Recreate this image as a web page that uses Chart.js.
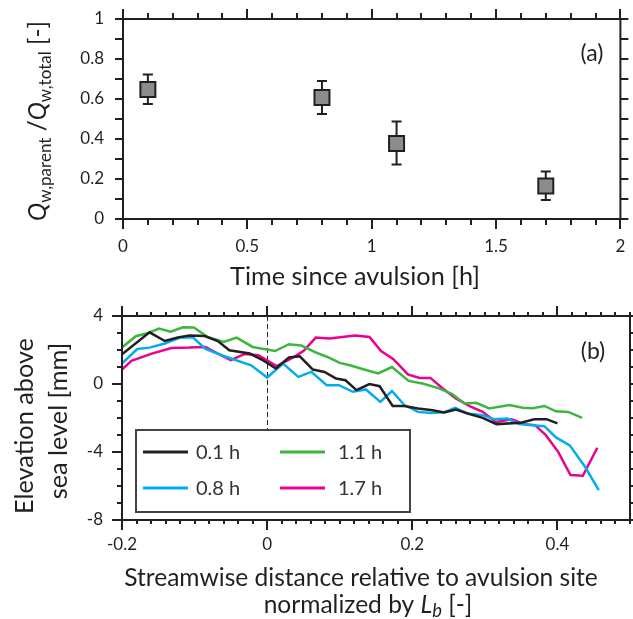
<!DOCTYPE html>
<html><head><meta charset="utf-8">
<script src="https://cdn.jsdelivr.net/npm/chart.js@4.4.1/dist/chart.umd.min.js"></script>
<style>html,body{margin:0;padding:0;background:#fff;} canvas{display:block;}</style>
</head><body>
<canvas id="ca" width="633" height="300"></canvas>
<canvas id="cb" width="633" height="319"></canvas>
<script>
// ---------- Panel (a) data ----------
const timeH  = [0.1, 0.8, 1.1, 1.7];
const qRatio = [0.647, 0.607, 0.377, 0.165];
const qLow   = [0.575, 0.525, 0.273, 0.095];
const qHigh  = [0.723, 0.690, 0.487, 0.237];
const aXTicks = [0, 0.5, 1, 1.5, 2];
const aXLabels = ['0', '0.5', '1', '1.5', '2'];
const aYTicks = [0, 0.2, 0.4, 0.6, 0.8, 1];
const aYLabels = ['0', '0.2', '0.4', '0.6', '0.8', '1'];

// ---------- Panel (b) data ----------
const seriesLabels = ['0.1 h', '0.8 h', '1.1 h', '1.7 h'];
const seriesColors = ['#231f20', '#00aeef', '#3cb63c', '#ec008c'];
const x01 = [-0.200,-0.162,-0.141,-0.123,-0.107,-0.086,-0.068,-0.052,-0.024,-0.006,0.012,0.030,0.045,0.063,0.079,0.095,0.108,0.123,0.141,0.155,0.173,0.189,0.208,0.228,0.244,0.260,0.279,0.297,0.316,0.350,0.368,0.385,0.400];
const y01 = [1.75,3.04,2.53,2.73,2.85,2.82,2.53,1.98,1.79,1.40,0.91,1.56,1.63,0.85,0.71,0.32,0.22,-0.36,0.00,-0.13,-1.29,-1.30,-1.44,-1.54,-1.67,-1.50,-1.77,-1.99,-2.36,-2.28,-2.07,-2.07,-2.32];
const x08 = [-0.200,-0.179,-0.162,-0.141,-0.120,-0.102,-0.085,-0.059,-0.022,0.000,0.022,0.043,0.061,0.082,0.099,0.118,0.136,0.156,0.172,0.189,0.208,0.226,0.244,0.259,0.276,0.297,0.313,0.331,0.347,0.366,0.382,0.398,0.417,0.438,0.457];
const y08 = [1.20,2.06,2.14,2.38,2.73,2.73,2.06,1.63,1.10,0.38,1.20,0.42,0.71,-0.07,-0.07,-0.46,-0.32,-1.05,-0.41,-1.24,-1.64,-1.70,-1.66,-1.40,-1.73,-1.83,-2.08,-2.03,-2.36,-2.42,-2.48,-3.14,-3.61,-4.87,-6.24];
const x11 = [-0.200,-0.181,-0.164,-0.149,-0.133,-0.116,-0.101,-0.082,-0.060,-0.042,-0.020,0.011,0.030,0.047,0.066,0.083,0.100,0.114,0.130,0.153,0.172,0.195,0.214,0.237,0.255,0.272,0.288,0.306,0.334,0.352,0.366,0.382,0.398,0.415,0.434];
const y11 = [2.15,2.81,3.00,3.26,3.08,3.34,3.32,2.77,2.47,2.73,2.18,1.94,2.34,2.26,1.88,1.59,1.24,1.10,0.90,0.62,1.00,0.18,0.03,-0.26,-0.60,-1.15,-1.11,-1.44,-1.23,-1.40,-1.42,-1.29,-1.61,-1.64,-1.99];
const x17 = [-0.200,-0.187,-0.159,-0.132,-0.107,-0.085,-0.068,-0.050,-0.031,-0.012,0.013,0.031,0.050,0.067,0.086,0.121,0.141,0.157,0.174,0.194,0.210,0.225,0.242,0.260,0.279,0.297,0.315,0.337,0.354,0.369,0.384,0.401,0.418,0.435,0.455];
const y17 = [0.85,1.36,1.79,2.12,2.14,2.18,1.79,1.40,1.77,1.69,1.05,1.44,1.94,2.73,2.67,2.85,2.77,1.94,1.46,0.56,0.36,0.36,-0.26,-0.85,-1.30,-1.64,-2.23,-2.08,-2.36,-2.42,-3.01,-3.99,-5.36,-5.40,-3.75];
const bXTicks = [-0.2, 0, 0.2, 0.4];
const bXLabels = ['-0.2', '0', '0.2', '0.4'];
const bYTicks = [-8, -4, 0, 4];
const bYLabels = ['-8', '-4', '0', '4'];

const FAM = 'Lato';
const INK = '#231f20';

function fitSize(ctx, text, targetW, style) {
  ctx.save(); ctx.font = (style || '') + ' 100px ' + FAM;
  const w = ctx.measureText(text).width; ctx.restore();
  return 100 * targetW / w;
}
function richWidth(ctx, parts) {
  let w = 0;
  parts.forEach(p => { ctx.font = p.font; w += ctx.measureText(p.t).width; });
  return w;
}
function drawRich(ctx, parts, cx, baseY, rotate) {
  ctx.save();
  ctx.translate(cx, baseY);
  if (rotate) ctx.rotate(-Math.PI / 2);
  const w = richWidth(ctx, parts);
  let x = -w / 2;
  ctx.fillStyle = INK; ctx.textBaseline = 'alphabetic'; ctx.textAlign = 'left';
  parts.forEach(p => { ctx.font = p.font; ctx.fillText(p.t, x, p.dy || 0); x += ctx.measureText(p.t).width; });
  ctx.restore();
}
// frame and tick marks drawn from the scales
function drawFrame(chart, xt, yt) {
  const {ctx, chartArea: {left, right, top, bottom}, scales: {x, y}} = chart;
  ctx.save();
  ctx.strokeStyle = INK; ctx.lineWidth = 2; ctx.lineCap = 'butt';
  ctx.beginPath();
  for (let i = 0; i <= xt.n; i++) {
    const v = xt.min + i * xt.step, px = Math.round(x.getPixelForValue(v));
    const len = (i % xt.every === 0) ? xt.major : xt.minor;
    ctx.moveTo(px, top); ctx.lineTo(px, top - len);
    ctx.moveTo(px, bottom); ctx.lineTo(px, bottom + len);
  }
  for (let i = 0; i <= yt.n; i++) {
    const v = yt.min + i * yt.step, py = Math.round(y.getPixelForValue(v));
    const len = (i % yt.every === 0) ? yt.major : yt.minor;
    ctx.moveTo(left, py); ctx.lineTo(left - len, py);
    ctx.moveTo(right, py); ctx.lineTo(right + len, py);
  }
  ctx.stroke();
  ctx.strokeRect(left, top, right - left, bottom - top);
  ctx.restore();
}
function noPadX(s, h) { s.height = h; s.paddingLeft = 0; s.paddingRight = 0; }
function noPadY(s, w) { s.width = w; s.paddingTop = 0; s.paddingBottom = 0; }
Chart.defaults.font.family = FAM;
Chart.defaults.color = INK;

// ---------- Chart (a) ----------
const plugA = {
  id: 'decorA',
  beforeDatasetsDraw(chart) {
    const {ctx, scales: {x, y}} = chart;
    ctx.save(); ctx.strokeStyle = INK; ctx.lineWidth = 2;
    ctx.beginPath();
    timeH.forEach((t, i) => {
      const px = x.getPixelForValue(t), p1 = y.getPixelForValue(qLow[i]), p2 = y.getPixelForValue(qHigh[i]);
      ctx.moveTo(px, p1); ctx.lineTo(px, p2);
      ctx.moveTo(px - 5, p1); ctx.lineTo(px + 5, p1);
      ctx.moveTo(px - 5, p2); ctx.lineTo(px + 5, p2);
    });
    ctx.stroke(); ctx.restore();
  },
  afterDraw(chart) {
    const ctx = chart.ctx;
    drawFrame(chart, {min: 0, step: 0.1, n: 20, every: 5, major: 10, minor: 6},
                     {min: 0, step: 0.1, n: 10, every: 1, major: 8, minor: 8});
    // x title
    const s = fitSize(ctx, 'Time since avulsion [h]', 250);
    drawRich(ctx, [{t: 'Time since avulsion [h]', font: s + 'px ' + FAM}], 355, 285, false);
    // y title
    const mk = (b) => [
      {t: 'Q', font: 'italic ' + b + 'px ' + FAM},
      {t: 'w,parent', font: (b * 0.7) + 'px ' + FAM, dy: b * 0.22},
      {t: ' /', font: b + 'px ' + FAM},
      {t: 'Q', font: 'italic ' + b + 'px ' + FAM},
      {t: 'w,total', font: (b * 0.7) + 'px ' + FAM, dy: b * 0.22},
      {t: ' [-]', font: b + 'px ' + FAM}
    ];
    const base = 100 * 200 / richWidth(ctx, mk(100));
    drawRich(ctx, mk(base), 46, 121, true);
    // panel label
    ctx.save(); ctx.fillStyle = INK; ctx.font = '23px ' + FAM; ctx.textAlign = 'center'; ctx.textBaseline = 'middle';
    ctx.fillText('(a)', 592, 54); ctx.restore();
  }
};

new Chart(document.getElementById('ca'), {
  type: 'scatter',
  data: { datasets: [{
    data: timeH.map((t, i) => ({x: t, y: qRatio[i]})),
    pointStyle: 'rect', pointRadius: 10.6, pointHoverRadius: 10.6,
    backgroundColor: '#8c8c8c', borderColor: INK, borderWidth: 2
  }]},
  options: {
    responsive: false, animation: false, devicePixelRatio: 1,
    layout: {padding: {left: 0, right: 10, top: 19, bottom: 0}},
    plugins: {legend: {display: false}, tooltip: {enabled: false}},
    scales: {
      x: { type: 'linear', min: 0, max: 2,
        grid: {display: false, drawTicks: false}, border: {display: false},
        afterBuildTicks: s => { s.ticks = aXTicks.map(v => ({value: v})); },
        afterFit: s => noPadX(s, 81),
        ticks: {padding: 17, font: {size: 17}, color: INK, maxRotation: 0,
          callback: (v) => aXLabels[aXTicks.indexOf(v)] }
      },
      y: { type: 'linear', min: 0, max: 1,
        grid: {display: false, drawTicks: false}, border: {display: false},
        afterBuildTicks: s => { s.ticks = aYTicks.map(v => ({value: v})); },
        afterFit: s => noPadY(s, 123),
        ticks: {padding: 19, font: {size: 17}, color: INK,
          callback: (v) => aYLabels[aYTicks.indexOf(v)] }
      }
    }
  },
  plugins: [plugA]
});

// ---------- Chart (b) ----------
const xsAll = [x01, x08, x11, x17], ysAll = [y01, y08, y11, y17];
const plugB = {
  id: 'decorB',
  beforeDatasetsDraw(chart) {
    const {ctx, chartArea: {top}, scales: {x}} = chart;
    const px = Math.round(x.getPixelForValue(0)) + 0.5;
    ctx.save(); ctx.strokeStyle = INK; ctx.lineWidth = 1; ctx.setLineDash([5, 3]);
    ctx.beginPath(); ctx.moveTo(px, top); ctx.lineTo(px, 130); ctx.stroke(); ctx.restore();
  },
  afterDraw(chart) {
    const ctx = chart.ctx;
    // legend
    ctx.save();
    ctx.fillStyle = '#fff'; ctx.fillRect(136, 130, 274, 82);
    ctx.strokeStyle = '#444'; ctx.lineWidth = 2; ctx.strokeRect(136, 130, 274, 82);
    const cols = [{lx: 143, tx: 196}, {lx: 280, tx: 338}], rows = [152, 188];
    chart.data.datasets.forEach((d, i) => {
      const c = cols[Math.floor(i / 2)], ry = rows[i % 2];
      ctx.strokeStyle = d.borderColor; ctx.lineWidth = 3;
      ctx.beginPath(); ctx.moveTo(c.lx, ry); ctx.lineTo(c.lx + 45, ry); ctx.stroke();
      ctx.fillStyle = '#333'; ctx.font = '20px ' + FAM; ctx.textBaseline = 'middle'; ctx.textAlign = 'left';
      ctx.fillText(d.label, c.tx, ry + 1);
    });
    ctx.restore();
    drawFrame(chart, {min: -0.2, step: 0.02, n: 35, every: 10, major: 10, minor: 4},
                     {min: -8, step: 1, n: 12, every: 4, major: 10, minor: 5});
    // x title
    const l1 = 'Streamwise distance relative to avulsion site';
    const s = fitSize(ctx, l1, 474);
    drawRich(ctx, [{t: l1, font: s + 'px ' + FAM}], 361, 286, false);
    drawRich(ctx, [
      {t: 'normalized by ', font: s + 'px ' + FAM},
      {t: 'L', font: 'italic ' + s + 'px ' + FAM},
      {t: 'b', font: 'italic ' + (s * 0.75) + 'px ' + FAM, dy: 4},
      {t: ' [-]', font: s + 'px ' + FAM}
    ], 368, 313, false);
    // y title
    const sy = fitSize(ctx, 'Elevation above', 176);
    drawRich(ctx, [{t: 'Elevation above', font: sy + 'px ' + FAM}], 33, 126, true);
    drawRich(ctx, [{t: 'sea level [mm]', font: sy + 'px ' + FAM}], 67, 121, true);
    // panel label
    ctx.save(); ctx.fillStyle = INK; ctx.font = '23px ' + FAM; ctx.textAlign = 'center'; ctx.textBaseline = 'middle';
    ctx.fillText('(b)', 593, 52); ctx.restore();
  }
};

new Chart(document.getElementById('cb'), {
  type: 'scatter',
  data: { datasets: seriesLabels.map((lab, k) => ({
    label: lab,
    data: xsAll[k].map((x, i) => ({x: x, y: ysAll[k][i]})),
    showLine: true, pointRadius: 0, pointHoverRadius: 0,
    borderColor: seriesColors[k], backgroundColor: seriesColors[k],
    borderWidth: 2.5, tension: 0, fill: false
  }))},
  options: {
    responsive: false, animation: false, devicePixelRatio: 1,
    layout: {padding: {left: 0, right: 3, top: 16, bottom: 0}},
    plugins: {legend: {display: false}, tooltip: {enabled: false}},
    scales: {
      x: { type: 'linear', min: -0.2, max: 0.5,
        grid: {display: false, drawTicks: false}, border: {display: false},
        afterBuildTicks: s => { s.ticks = bXTicks.map(v => ({value: v})); },
        afterFit: s => noPadX(s, 99),
        ticks: {padding: 14, font: {size: 17}, color: INK, maxRotation: 0,
          callback: (v) => bXLabels[bXTicks.indexOf(v)] }
      },
      y: { type: 'linear', min: -8, max: 4,
        grid: {display: false, drawTicks: false}, border: {display: false},
        afterBuildTicks: s => { s.ticks = bYTicks.map(v => ({value: v})); },
        afterFit: s => noPadY(s, 122),
        ticks: {padding: 19, font: {size: 17}, color: INK,
          callback: (v) => bYLabels[bYTicks.indexOf(v)] }
      }
    }
  },
  plugins: [plugB]
});
</script>
</body></html>
